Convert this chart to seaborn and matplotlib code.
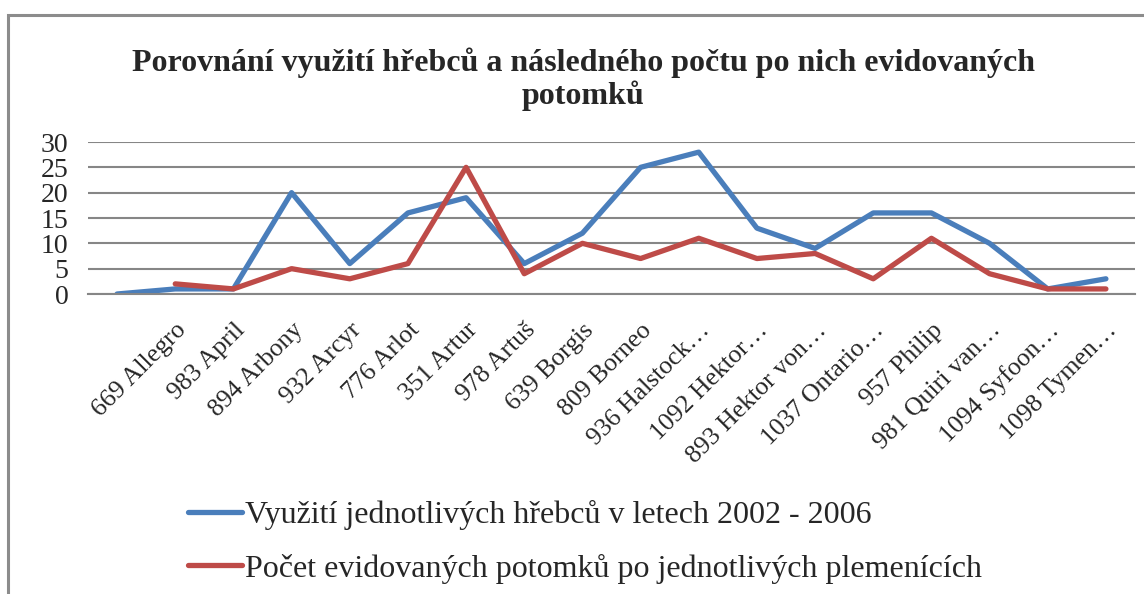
"""
Recreate the stallion usage vs. offspring line chart.
"""
import seaborn as sns
import pandas as pd
import numpy as np
import matplotlib.pyplot as plt
from matplotlib.patches import Rectangle

# Categories (first one has no label in the original chart).
stallions = ["", "669 Allegro", "983 April", "894 Arbony", "932 Arcyr", "776 Arlot",
             "351 Artur", "978 Artuš", "639 Borgis", "809 Borneo", "936 Halstock…",
             "1092 Hektor…", "893 Hektor von…", "1037 Ontario…", "957 Philip",
             "981 Quiri van…", "1094 Syfoon…", "1098 Tymen…"]

usage = [0, 1, 1, 20, 6, 16, 19, 6, 12, 25, 28, 13, 9, 16, 16, 10, 1, 3]
offspring = [np.nan, 2, 1, 5, 3, 6, 25, 4, 10, 7, 11, 7, 8, 3, 11, 4, 1, 1]

series_names = ["Využití jednotlivých hřebců v letech 2002 - 2006",
                "Počet evidovaných potomků po jednotlivých plemenících"]
colors = ["#4A7EBB", "#BE4B48"]
y_ticks = [0, 5, 10, 15, 20, 25, 30]
title = "Porovnání využití hřebců a následného počtu po nich evidovaných\npotomků"

# Long-form table for seaborn.
df = pd.DataFrame({
    "pos": list(range(len(stallions))) * 2,
    "value": usage + offspring,
    "series": [series_names[0]] * len(stallions) + [series_names[1]] * len(stallions),
})
df = df.dropna()

sns.set_style("white")
plt.rcParams["font.family"] = ["Liberation Serif", "DejaVu Serif"]

fig = plt.figure(figsize=(11.44, 5.94), dpi=100)
ax = fig.add_axes([88 / 1144, 1 - 294 / 594, (1135 - 88) / 1144, (294 - 142) / 594])

# Outer chart border (cut off on right and bottom like in the original).
fig.patches.append(Rectangle((8 / 1144, -0.05), 1.2, 1 - 15 / 594 + 0.05,
                             transform=fig.transFigure, fill=False,
                             edgecolor="#8C8C8C", linewidth=2.2))

sns.lineplot(data=df, x="pos", y="value", hue="series", hue_order=series_names,
             palette=colors, linewidth=3.8, ax=ax, legend=True)

# Axes styling.
ax.set_xlim(-0.5, len(stallions) - 0.5)
ax.set_ylim(0, 30)
ax.set_yticks(y_ticks)
ax.set_yticklabels([str(t) for t in y_ticks], fontsize=20)
ax.set_xticks(range(len(stallions)))
ax.set_xticklabels(stallions, rotation=45, ha="right", rotation_mode="anchor",
                   fontsize=18.5)
ax.tick_params(axis="x", length=0, pad=18)
ax.tick_params(axis="y", length=0, pad=14)
ax.grid(axis="y", color="#868686", linewidth=1.5)
ax.set_axisbelow(True)
for s in ["top", "right", "left"]:
    ax.spines[s].set_visible(False)
ax.spines["bottom"].set_color("#868686")
ax.spines["bottom"].set_linewidth(1.5)
ax.set_xlabel("")
ax.set_ylabel("")

# Title.
fig.text(583 / 1144, 1 - 79 / 594, title, ha="center", va="center",
         fontsize=23, fontweight="bold", linespacing=1.12)

# Legend below the chart.
handles, labels = ax.get_legend_handles_labels()
ax.legend_.remove()
fig.legend(handles, labels, loc="center left",
           bbox_to_anchor=(188 / 1144, 1 - 542 / 594), frameon=False,
           fontsize=23, handlelength=1.7, handletextpad=0.08, labelspacing=0.72,
           borderpad=0, borderaxespad=0)

plt.savefig("out.png", dpi=100)
